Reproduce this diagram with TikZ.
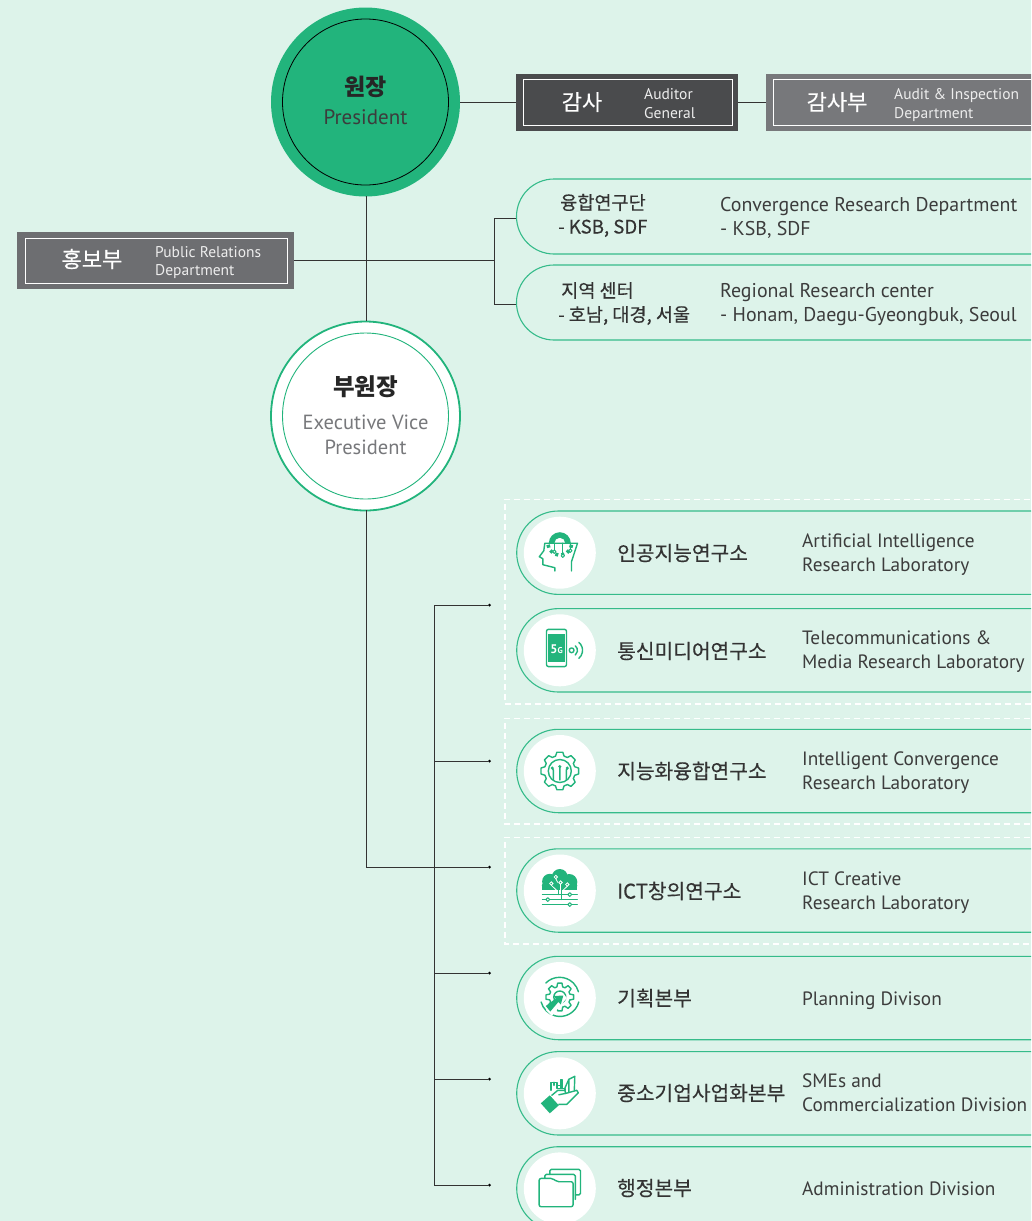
\documentclass[tikz,border=0pt]{standalone}
\usepackage{fontspec}
\setmainfont{PT Sans}
\newfontfamily\kr{Noto Sans CJK KR}
\newfontfamily\krm[RawFeature={embolden=0.35}]{Noto Sans CJK KR}
\definecolor{bgc}{HTML}{DDF3EA}
\definecolor{grn}{HTML}{22B47C}
\definecolor{pil}{HTML}{35BB8A}
\definecolor{dkg}{HTML}{4A4B4D}
\definecolor{mdg}{HTML}{77787B}
\definecolor{prg}{HTML}{6D6E71}
\definecolor{txg}{HTML}{3C3C3C}
\definecolor{wtx}{HTML}{EDEDED}
\tikzset{x=1pt,y=-1pt,
 ln/.style={draw=black!80,line width=0.9pt},
 pill/.style={draw=pil,line width=1.1pt,fill=bgc},
 dashb/.style={draw=white,dash pattern=on 6pt off 4pt,line width=1.2pt},
 en/.style={anchor=west,align=left,text=txg,font=\fontsize{19.3}{24}\selectfont,inner sep=0pt},
 entop/.style={en,font=\fontsize{19.9}{24}\selectfont},
 ko/.style={anchor=west,align=left,text=black!80,inner sep=0pt,font=\krm\fontsize{20.3}{24}\selectfont},
 ko2/.style={anchor=west,align=left,text=black!80,inner sep=0pt,font=\krm\fontsize{18.6}{24}\selectfont},
 wko/.style={text=white,font=\krm\fontsize{22}{26}\selectfont},
 wen/.style={anchor=west,align=left,text=wtx,inner sep=0pt,font=\fontsize{15.5}{19}\selectfont},
 frame/.style={draw=white,line width=0.8pt,inner sep=0pt},
 disc/.style={circle,fill=white,draw=none,minimum size=72pt,inner sep=0pt},
 dotn/.style={circle,fill=black,inner sep=0pt,minimum size=3pt},
 ic/.style={draw=grn,line width=1.4pt,line cap=round,line join=round},
 icf/.style={fill=grn,draw=none}}
\newcommand{\pillat}[2]{\path[pill] (1040,#1+41.7) -- (558.4,#1+41.7) arc[start angle=90,end angle=270,radius=41.7] -- (1040,#1-41.7);\node[disc] (#2) at (559.8,#1) {};}
\newcommand{\gearpath}[5]{(-#4:#1) \foreach \a in {0,#3,...,359}{ -- (\a-#4:#1) -- (\a-#5:#2) -- (\a+#5:#2) -- (\a+#4:#1) } -- cycle}
\begin{document}
\begin{tikzpicture}
\useasboundingbox (0,0) rectangle (1031,1221);
\fill[bgc] (0,0) rectangle (1031,1221);
\clip (0,0) rectangle (1031,1221);
\node[circle,fill=grn,minimum size=189pt,inner sep=0pt] (pres) at (365.5,102) {};
\node[circle,draw=black,line width=0.8pt,minimum size=166pt,inner sep=0pt] (presin) at (365.5,102) {};
\node[circle,fill=white,draw=grn,line width=1.8pt,minimum size=189pt,inner sep=0pt] (evp) at (365.5,416) {};
\node[circle,draw=grn,line width=0.9pt,minimum size=166pt,inner sep=0pt] (evpin) at (365.5,416) {};
\coordinate (ps) at (366,196);
\coordinate (en) at (366,321);
\coordinate (es) at (366,510);
\draw[ln] (ps) -- (en);
% Auditor
\path[fill=dkg] (516,74) rectangle (738,131);
\node[frame,minimum width=209pt,minimum height=46pt] (aud) at (627.5,102.5) {};
\node[wko] (audk) at (582,102) {감사};
\node[wen] (aude) at (644,103.5) {Auditor\\General};
\path[fill=mdg] (766,74) rectangle (1040,131);
\node[frame,minimum width=270pt,minimum height=46pt] (insp) at (908,102.5) {};
\node[wko] (inspk) at (837,102) {감사부};
\node[wen] (inspe) at (894,105) {Audit \& Inspection\\Department};
\coordinate (audl) at (516,102.5);
\coordinate (audr) at (738,102.5);
\coordinate (inspl) at (766,102.5);
\draw[ln] (pres.east|-aud) -- (audl);
\draw[ln] (audr) -- (inspl);
% PR
\path[fill=prg] (17,232) rectangle (294,289);
\node[frame,minimum width=262pt,minimum height=45pt] (pr) at (156,260.5) {};
\node[wko] (prk) at (92,259) {홍보부};
\node[wen,font=\fontsize{15.5}{18}\selectfont] (pre) at (155,263) {Public Relations\\Department};
\coordinate (prr) at (294,260);
\coordinate (jr) at (494.3,260);
\coordinate (ja) at (494.3,218);
\coordinate (jb) at (494.3,304);
\coordinate (pa) at (517,218);
\coordinate (pb) at (517,304);
\draw[ln] (prr) -- (jr);
\draw[ln] (pa) -- (ja) -- (jb) -- (pb);
% top pills
\path[pill] (1040,254) -- (554,254) arc[start angle=90,end angle=270,radius=37.5] -- (1040,179);
\path[pill] (1040,340) -- (554,340) arc[start angle=90,end angle=270,radius=37.5] -- (1040,265);
\node[ko2] (k1) at (558,215.5) {\hspace*{2pt}융합연구단\\- KSB, SDF};
\node[entop] (e1) at (720,218) {Convergence Research Department\\- KSB, SDF};
\node[ko2] (k2) at (558,303.5) {\hspace*{3pt}지역 센터\\- 호남, 대경, 서울};
\node[entop] (e2) at (720,305) {Regional Research center\\- Honam, Daegu-Gyeongbuk, Seoul};
% President text
\node[font=\kr\fontsize{23}{27}\selectfont\bfseries,text=black!85] (t1) at (365.5,87) {원장};
\node[font=\fontsize{21}{25}\selectfont,text=txg] (t2) at (365.5,117) {President};
\node[font=\kr\fontsize{23.5}{27}\selectfont\bfseries,text=black!85] (t3) at (365.5,387) {부원장};
\node[align=center,font=\fontsize{20.5}{25}\selectfont,text=mdg] (t4) at (365.5,435) {Executive Vice\\President};
% tree
\coordinate (tt) at (434.6,605);
\coordinate (tb) at (434.6,1185);
\foreach \yy/\nn in {605/d1,761/d2,867/d3,973/d4,1079/d5,1185/d6}{
  \node[dotn] (\nn) at (489.5,\yy) {};}
\draw[ln] (es) -- (es|-d3) -- (d3);
\draw[ln] (d1) -- (tt) -- (tb) -- (d6);
\draw[ln] (tt|-d2) -- (d2);
\draw[ln] (tt|-d4) -- (d4);
\draw[ln] (tt|-d5) -- (d5);
% dashed
\draw[dashb] (1040,499.3) -- (505,499.3) -- (505,704) -- (1040,704);
\draw[dashb] (1040,718.3) -- (505,718.3) -- (505,824) -- (1040,824);
\draw[dashb] (1040,837.3) -- (505,837.3) -- (505,944) -- (1040,944);
% pills
\pillat{552.7}{a1}
\pillat{650.3}{a2}
\pillat{771}{a3}
\pillat{890.5}{a4}
\pillat{998}{a5}
\pillat{1093.3}{a6}
\pillat{1188.4}{a7}
% Icon 1: head with gear
\begin{scope}[shift={(a1.center)}]
 \draw[ic] (11.7,18.3) -- (11.7,9) -- (17.7,-9.5) -- (-15,-9.5) -- (-16,-2) -- (-20.5,4) -- (-17,6) -- (-17,12) -- (-5,15) -- (-5,18.3);
 \fill[grn] (-11,-9.5) arc[start angle=180,end angle=360,radius=11] -- (5.5,-9.5) arc[start angle=360,end angle=180,radius=5.5] -- cycle;
 \foreach \a in {195,225,255,285,315,345}{\fill[grn,rotate around={\a:(0,-9.5)}] (10,-11) rectangle (13.5,-8);}
 \draw[ic,line width=1pt] (-5.5,-9.5) -- (-5.5,-1);
 \draw[ic,line width=1pt] (3,-9.5) -- (3,2);
 \draw[ic,line width=1pt] (10.5,-9.5) -- (10.5,-3);
 \draw[ic,line width=1pt,fill=white] (-5.5,-1) circle[radius=1.7] (3,3) circle[radius=1.7] (10.5,-2) circle[radius=1.7];
\end{scope}
% Icon 2: phone
\begin{scope}[shift={(a2.center)}]
 \draw[ic,rounded corners=2pt] (-13.3,-21) rectangle (6.7,16.3);
 \fill[grn] (-11.5,-16) rectangle (4.9,11.3);
 \node[text=white,inner sep=0pt,font=\fontsize{12.5}{13}\selectfont\bfseries] (ic5g) at (-3.2,-1.3) {5{\fontsize{8.5}{9}\selectfont G}};
 \draw[ic] (11.8,0) circle[radius=2.4];
 \draw[ic] (15.5,-4.5) arc[start angle=-50,end angle=50,radius=6];
 \draw[ic] (19,-8) arc[start angle=-50,end angle=50,radius=10.5];
\end{scope}
% Icon 3: gear
\begin{scope}[shift={(a3.center)}]
 \draw[ic] \gearpath{15.5}{19}{45}{16}{9};
 \draw[ic] (0,0) circle[radius=11.5];
 \draw[ic] (0,9) -- (0,-4) (-6.5,9) -- (-6.5,-1) -- (-7.5,-2.5) (6.5,9) -- (6.5,-1) -- (7.5,-2.5);
 \fill[grn] (0,-4.5) circle[radius=1.7] (-7.5,-3) circle[radius=1.7] (7.5,-3) circle[radius=1.7];
\end{scope}
% Icon 4: tree
\begin{scope}[shift={(a4.center)}]
 \fill[grn] (-10,-9) circle[radius=7.7] (0,-13.5) circle[radius=8] (9.5,-8.5) circle[radius=8] (-14,-5) circle[radius=4] (13.5,-5) circle[radius=4];
 \fill[grn] (-17.7,-5) rectangle (17.5,-0.5);
 \fill[grn] (-10,-9) rectangle (10,-0.5);
 \begin{scope}[draw=white,line width=.8pt]
  \draw (-4,-13.5) circle[radius=1.7] (0.7,-8) circle[radius=1.7] (-8.5,-7) circle[radius=1.7] (7.5,-6) circle[radius=1.7];
  \draw (-4,-11.8) -- (-2,-8) (.7,-6.3) -- (.7,0) (-8.5,-5.3) -- (-3,0) (7.5,-4.3) -- (3,0);
 \end{scope}
 \draw[ic,line width=1pt] (-1.5,-1) -- (-1.5,4) (2,-1) -- (2,9) (-17.5,4) -- (8,4) (12,4) -- (17.5,4) (-17.5,9) -- (-14,9) (-10,9) -- (17.5,9) (-17.5,14) -- (8,14) (12,14) -- (17.5,14);
 \draw[ic,line width=1pt] (10,4) circle[radius=1.9] (-12,9) circle[radius=1.9] (10,14) circle[radius=1.9];
\end{scope}
% Icon 5: planning gear
\begin{scope}[shift={(a5.center)}]
 \begin{scope}[shift={(0,-1)}]
  \draw[ic] \gearpath{10.5}{14}{45}{16}{9};
  \draw[ic] (0,0) circle[radius=6];
  \draw[ic] (-14,-14) arc[start angle=225,end angle=345,radius=19.5];
  \draw[ic] (19,5) arc[start angle=15,end angle=165,radius=19.5];
  \fill[white] (4.5,-2) -- (-14,13) -- (-8,19) -- (7,1) -- cycle;
  \fill[grn] (3.5,-1.5) -- (-6,-1) -- (-4,1.5) -- (-14,9) -- (-9.5,14.5) -- (-1.5,5) -- (1,7.5) -- cycle;
 \end{scope}
\end{scope}
% Icon 6: hand + buildings
\begin{scope}[shift={(a6.center)}]
 \fill[grn] (-19,10) -- (-10,2) -- (-1,12) -- (-10,20) -- cycle;
 \draw[ic] (-8,2) -- (-2,-3) -- (5,-3) -- (6,0) -- (-1,1.5) (4.5,0.5) -- (17,-3) -- (18.5,-0.5) -- (7,11) -- (-1,11);
 \draw[ic] (-9,-3) -- (-9,-11) -- (-3,-11) -- (-3,-5) -- (1,-5) -- (1,-14) -- (2,-14) -- (2,-5) -- (5,-5) -- (5,-3);
 \draw[ic] (-6,-11) -- (-6,-8) (-3,-8) -- (1,-8);
 \draw[ic] (5,-5) -- (9,-14) -- (15,-17) -- (14.5,-3) (9,-14) -- (9,-1);
\end{scope}
% Icon 7: folders
\begin{scope}[shift={(a7.center)}]
 \draw[ic,rounded corners=1.5pt] (-15,-10) -- (-15,-14) -- (15.5,-14) -- (15.5,11);
 \draw[ic,rounded corners=1.5pt] (-10,-14) -- (-10,-19) -- (20.7,-19) -- (20.7,6.5) -- (15.5,6.5);
 \draw[ic,rounded corners=2pt,fill=white] (-20.7,18.3) -- (-20.7,-10) -- (-7,-10) -- (-3,-6.7) -- (13.3,-6.7) -- (13.3,18.3) -- cycle;
\end{scope}
% labels
\node[ko] (l1) at (617,553) {인공지능연구소};
\node[en] (m1) at (802,555) {Artificial Intelligence\\Research Laboratory};
\node[ko] (l2) at (617,651) {통신미디어연구소};
\node[en] (m2) at (802,652) {Telecommunications \&\\Media Research Laboratory};
\node[ko] (l3) at (617,771) {지능화융합연구소};
\node[en] (m3) at (802,773) {Intelligent Convergence\\Research Laboratory};
\node[ko] (l4) at (617,891) {ICT창의연구소};
\node[en] (m4) at (802,893) {ICT Creative\\Research Laboratory};
\node[ko] (l5) at (617,998) {기획본부};
\node[en] (m5) at (802,1001) {Planning Divison};
\node[ko] (l6) at (617,1093) {중소기업사업화본부};
\node[en] (m6) at (802,1093) {SMEs and\\Commercialization Division};
\node[ko] (l7) at (617,1188) {행정본부};
\node[en] (m7) at (802,1189) {Administration Division};
\end{tikzpicture}
\end{document}
